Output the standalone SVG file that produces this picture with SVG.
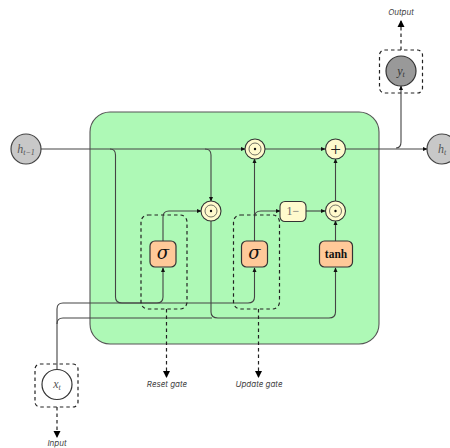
<svg xmlns="http://www.w3.org/2000/svg" width="450" height="448" viewBox="0 0 450 448">
<style>
.c{fill:none;stroke:#444;stroke-width:1.1}
.d{fill:none;stroke:#222;stroke-width:1.2;stroke-dasharray:3.500 3}
.o{fill:#fffacd;stroke:#333;stroke-width:1.100}
.g{fill:#ffc999;stroke:#333;stroke-width:1.200}
.s{fill:#c8c8c8;stroke:#444;stroke-width:1.200}
.m{font-family:"Liberation Serif",serif;font-style:italic;fill:#555;text-anchor:middle}
.l{font-family:Inter,"Liberation Sans",sans-serif;font-style:italic;font-size:8px;fill:#444;text-anchor:middle}
</style>
<defs>
<marker id="a" markerWidth="5" markerHeight="5" refX="4" refY="2.500" orient="auto" markerUnits="userSpaceOnUse"><path d="M0 0.500L4.500 2.500L0 4.500z" fill="#111"/></marker>
<marker id="b" markerWidth="8" markerHeight="8" refX="6" refY="4" orient="auto" markerUnits="userSpaceOnUse"><path d="M0 0.500L7 4L0 7.500z" fill="#000"/></marker>
</defs>
<g id="lstm-cell"><rect x="90" y="112" width="289" height="232" rx="20" fill="#aef9b6" stroke="#555" stroke-width="1.100"/></g>
<g id="connectors">
<path class="c" d="M41 149H245" marker-end="url(#a)"/>
<path class="c" d="M110 149Q115.500 149 115.500 155V297Q115.500 303 122 303H157Q163 303 163 297V268" marker-end="url(#a)"/>
<path class="c" d="M205 149Q211 149 211 155V201" marker-end="url(#a)"/>
<path class="c" d="M211 221V312Q211 318 218 318H329Q335.500 318 335.500 312V268" marker-end="url(#a)"/>
<path class="c" d="M57 369V309Q57 303 63 303H248Q254.500 303 254.500 297V268" marker-end="url(#a)"/>
<path class="c" d="M57 324Q57 318 63 318H212"/>
<path class="c" d="M163 241V217Q163 211 169 211H201" marker-end="url(#a)"/>
<path class="c" d="M254.500 241V159" marker-end="url(#a)"/>
<path class="c" d="M254.500 217Q254.500 211 261 211H280" marker-end="url(#a)"/>
<path class="c" d="M306 211H325" marker-end="url(#a)"/>
<path class="c" d="M335.500 241V221" marker-end="url(#a)"/>
<path class="c" d="M335.500 201V159" marker-end="url(#a)"/>
<path class="c" d="M265 149H325" marker-end="url(#a)"/>
<path class="c" d="M345.500 149H427" marker-end="url(#a)"/>
<path class="c" d="M396 148Q401 148 401 142V86" marker-end="url(#a)"/>
<path class="d" d="M401 50V21" marker-end="url(#b)"/>
<path class="d" d="M166.500 309V377" marker-end="url(#b)"/>
<path class="d" d="M258.500 309V377" marker-end="url(#b)"/>
<path class="d" d="M57 407V437" marker-end="url(#b)"/>
</g>
<g id="reset-gate"><rect class="d" x="141" y="215" width="46" height="94" rx="7"/><text class="l" x="167" y="387">Reset gate</text></g>
<g id="update-gate"><rect class="d" x="233.500" y="215" width="46" height="94" rx="7"/><text class="l" x="259" y="387">Update gate</text></g>
<g id="h-prev"><circle class="s" cx="26" cy="149" r="15"/><text class="m" x="26" y="153" font-size="12">h<tspan font-size="8" dy="2">t−1</tspan></text></g>
<g id="h-next"><circle class="s" cx="442" cy="149" r="15"/><text class="m" x="442" y="153" font-size="12">h<tspan font-size="8" dy="2">t</tspan></text></g>
<g id="x-input"><rect class="d" x="35" y="364" width="43" height="43" rx="5"/><circle cx="57" cy="384.500" r="15" fill="#fff" stroke="#333" stroke-width="1.200"/><text class="m" x="57" y="388" font-size="12">x<tspan font-size="8" dy="2">t</tspan></text></g>
<g id="y-output"><rect class="d" x="379.500" y="50" width="43" height="43" rx="5"/><circle cx="401" cy="71" r="15" fill="#999" stroke="#333" stroke-width="1.200"/><text class="m" x="401" y="75" font-size="12" style="fill:#333">y<tspan font-size="8" dy="2">t</tspan></text></g>
<g id="mul-1"><circle class="o" cx="255" cy="149" r="10"/><circle cx="255" cy="149" r="6" fill="none" stroke="#333" stroke-width=".7"/><circle cx="255" cy="149" r="1.200" fill="#111"/></g>
<g id="mul-2"><circle class="o" cx="211" cy="211" r="10"/><circle cx="211" cy="211" r="6" fill="none" stroke="#333" stroke-width=".7"/><circle cx="211" cy="211" r="1.200" fill="#111"/></g>
<g id="mul-3"><circle class="o" cx="335.500" cy="211" r="10"/><circle cx="335.500" cy="211" r="6" fill="none" stroke="#333" stroke-width=".7"/><circle cx="335.500" cy="211" r="1.200" fill="#111"/></g>
<g id="add"><circle class="o" cx="335.500" cy="149" r="10"/><text x="335.500" y="155.500" font-family="Liberation Serif,serif" font-size="19" text-anchor="middle" fill="#222">+</text></g>
<g id="one-minus"><rect class="o" x="280" y="201.500" width="26" height="20" rx="5"/><text x="293" y="215" font-family="Liberation Serif,serif" font-size="12" text-anchor="middle" fill="#666">1−</text></g>
<g id="sigma-reset"><rect class="g" x="150" y="241" width="26" height="26" rx="5"/><text x="163" y="259" font-family="DejaVu Serif,serif" font-style="italic" font-size="18" text-anchor="middle" fill="#111">σ</text></g>
<g id="sigma-update"><rect class="g" x="241.500" y="241" width="26" height="26" rx="5"/><text x="254.500" y="259" font-family="DejaVu Serif,serif" font-style="italic" font-size="18" text-anchor="middle" fill="#111">σ</text></g>
<g id="tanh"><rect class="g" x="319.500" y="241" width="33" height="26" rx="5"/><text x="336" y="257.500" font-family="Liberation Serif,serif" font-weight="bold" font-size="11.500" text-anchor="middle" fill="#111">tanh</text></g>
<text class="l" x="401" y="15">Output</text>
<text class="l" x="57" y="446">Input</text>
</svg>
